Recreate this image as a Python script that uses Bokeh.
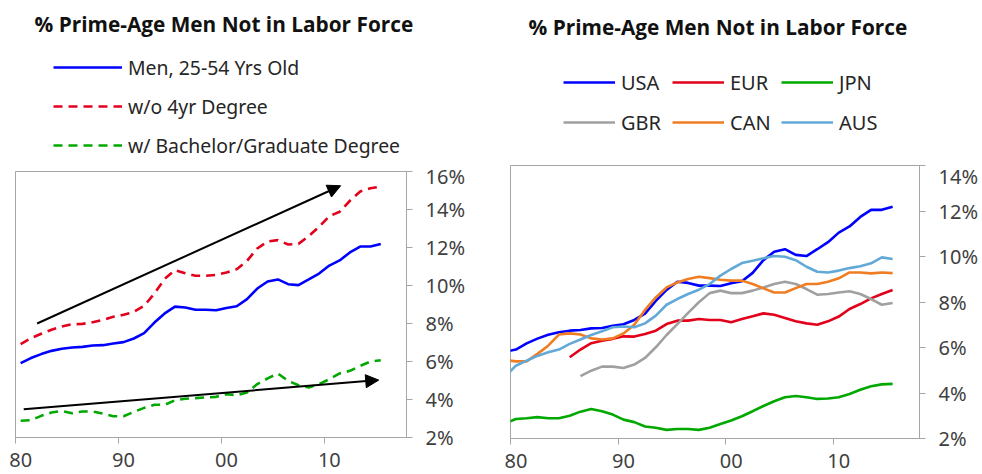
from bokeh.plotting import figure
from bokeh.models import (Range1d, FixedTicker, PrintfTickFormatter, CustomJSTickFormatter,
                          Legend, LegendItem, Arrow, NormalHead)
from bokeh.layouts import row, column
from bokeh.embed import file_html
from bokeh.resources import INLINE

NaN = float("nan")

# ---------------- data: left chart (US) ----------------
years_l = list(range(1980, 2016))
men_all = [5.91, 6.18, 6.39, 6.56, 6.67, 6.74, 6.77, 6.84, 6.86, 6.95,
           7.02, 7.21, 7.49, 8.05, 8.53, 8.89, 8.84, 8.72, 8.72, 8.70,
           8.82, 8.91, 9.28, 9.84, 10.21, 10.32, 10.07, 10.02, 10.32, 10.63,
           11.05, 11.32, 11.74, 12.05, 12.05, 12.19]
no_degree = [6.91, 7.23, 7.46, 7.67, 7.84, 7.96, 7.98, 8.07, 8.19, 8.35,
             8.46, 8.61, 8.93, 9.58, 10.35, 10.81, 10.65, 10.51, 10.51, 10.56,
             10.68, 10.86, 11.30, 11.95, 12.32, 12.39, 12.16, 12.19, 12.60, 13.09,
             13.65, 13.88, 14.46, 14.95, 15.12, 15.21]
ba_degree = [2.88, 2.91, 3.14, 3.32, 3.39, 3.28, 3.37, 3.37, 3.26, 3.12,
             3.12, 3.35, 3.56, 3.72, 3.72, 3.96, 4.04, 4.07, 4.11, 4.14,
             4.28, 4.23, 4.37, 4.81, 5.11, 5.37, 4.98, 4.75, 4.63, 4.81,
             5.07, 5.37, 5.51, 5.77, 6.00, 6.07]
left_labels = ["Men, 25-54 Yrs Old", "w/o 4yr Degree", "w/ Bachelor/Graduate Degree"]

# trend arrows (start x, start y, end x, end y)
arrow_x0 = [1982.1, 1980.8]
arrow_y0 = [8.0, 3.49]
arrow_x1 = [2011.6, 2015.3]
arrow_y1 = [15.25, 5.02]

# ---------------- data: right chart (countries) ----------------
years_r = list(range(1979, 2016))
usa = [5.81] + men_all
eur = [NaN] * 6 + [5.57, 5.91, 6.19, 6.30, 6.38, 6.49, 6.48, 6.59, 6.74, 7.03,
                   7.18, 7.18, 7.25, 7.21, 7.21, 7.11, 7.25, 7.37, 7.50, 7.44,
                   7.30, 7.15, 7.06, 7.00, 7.15, 7.36, 7.69, 7.91, 8.16, 8.35, 8.53]
jpn = [2.66, 2.86, 2.89, 2.94, 2.89, 2.89, 3.00, 3.18, 3.30, 3.20, 3.05,
       2.83, 2.72, 2.53, 2.47, 2.38, 2.42, 2.42, 2.38, 2.47, 2.64,
       2.79, 2.98, 3.20, 3.43, 3.64, 3.81, 3.87, 3.81, 3.74, 3.76,
       3.81, 3.96, 4.14, 4.30, 4.38, 4.40]
gbr = [NaN] * 7 + [4.74, 4.98, 5.16, 5.16, 5.10, 5.25, 5.54, 6.01, 6.55, 7.03,
                   7.52, 7.99, 8.39, 8.50, 8.39, 8.39, 8.50, 8.64, 8.79, 8.89,
                   8.79, 8.57, 8.32, 8.35, 8.42, 8.47, 8.35, 8.13, 7.88, 7.96]
can = [5.45, 5.39, 5.39, 5.72, 6.08, 6.57, 6.62, 6.57, 6.40, 6.35, 6.40,
       6.62, 7.00, 7.65, 8.20, 8.64, 8.86, 9.01, 9.11, 9.05, 8.98,
       8.94, 8.94, 8.79, 8.60, 8.42, 8.42, 8.61, 8.79, 8.79, 8.89,
       9.04, 9.30, 9.30, 9.26, 9.30, 9.27]
aus = [4.72, 5.20, 5.42, 5.63, 5.79, 5.91, 6.16, 6.35, 6.55, 6.71, 6.89,
       6.92, 6.89, 7.06, 7.40, 7.88, 8.13, 8.35, 8.54, 8.79, 9.16,
       9.45, 9.71, 9.81, 9.92, 10.02, 9.99, 9.84, 9.55, 9.33, 9.30,
       9.38, 9.49, 9.57, 9.70, 9.96, 9.89]
country_names = ["USA", "EUR", "JPN", "GBR", "CAN", "AUS"]

# ---------------- axes ----------------
tick_years = [1980, 1990, 2000, 2010]
tick_labels = ["80", "90", "00", "10"]
left_y_ticks = [2, 4, 6, 8, 10, 12, 14, 16]
right_y_ticks = [2, 4, 6, 8, 10, 12, 14]

title_text = "% Prime-Age Men Not in Labor Force"

FONT = "Noto Sans"
GRID_GREY = "#A6A6A6"
TICK_TEXT = "#3f3f3f"
LEG_TEXT = "#262626"
HEAD_H = 162
CHART_H = 474 - HEAD_H

blue, red, green = "#0000FF", "#E3001B", "#00A800"
country_colors = [blue, red, green, "#A0A0A0", "#F07D22", "#62A9D8"]


def style(p, yticks):
    p.xgrid.visible = False
    p.ygrid.visible = False
    p.outline_line_color = GRID_GREY
    xa = p.xaxis[0]
    # labels centred on each category (mid-year), tick marks on the year boundary
    mids = [y + 0.5 for y in tick_years]
    xa.ticker = FixedTicker(ticks=mids, minor_ticks=tick_years)
    xa.formatter = CustomJSTickFormatter(
        args=dict(pos=mids, labels=tick_labels),
        code="const i = pos.indexOf(tick); return i < 0 ? '' : labels[i];")
    xa.axis_line_color = GRID_GREY
    xa.major_tick_line_color = None
    xa.major_tick_out = 0
    xa.major_tick_in = 0
    xa.minor_tick_line_color = GRID_GREY
    xa.minor_tick_out = 6
    xa.minor_tick_in = 0
    xa.major_label_standoff = 9
    xa.major_label_text_font = FONT
    xa.major_label_text_font_size = "20px"
    xa.major_label_text_color = TICK_TEXT
    ya = p.yaxis[0]
    ya.ticker = FixedTicker(ticks=yticks)
    ya.formatter = PrintfTickFormatter(format="%d%%")
    ya.axis_line_color = GRID_GREY
    ya.major_tick_line_color = GRID_GREY
    ya.major_tick_out = 6
    ya.major_tick_in = 0
    ya.minor_tick_line_color = None
    ya.major_label_standoff = 13
    ya.major_label_text_font = FONT
    ya.major_label_text_font_size = "20px"
    ya.major_label_text_color = TICK_TEXT


def header(width, title_offset, top):
    # header strip above each chart: title + legend (its frame lines up with the chart's)
    h = figure(width=width, height=HEAD_H, x_range=Range1d(0, 1), y_range=Range1d(0, 1),
               output_backend="svg", toolbar_location=None, x_axis_location=None,
               y_axis_location=None, min_border=0, min_border_top=top,
               outline_line_color=None, title=title_text)
    h.xgrid.visible = False
    h.ygrid.visible = False
    h.title.align = "left"
    h.title.offset = title_offset
    h.title.text_font = "Open Sans"
    h.title.text_font_style = "bold"
    h.title.text_font_size = "20.8px"
    h.title.text_color = "#111111"
    h.title.standoff = 0
    return h


LEG_STYLE = dict(padding=0, margin=0, border_line_color=None, background_fill_alpha=0,
                 glyph_height=28, label_height=28, label_text_font=FONT,
                 label_text_color=LEG_TEXT)

# ---------------- left chart ----------------
W1 = 500
h1 = header(W1, 19, 37)
p1 = figure(width=W1, height=CHART_H, x_range=Range1d(1980, 2018), y_range=Range1d(2, 16),
            output_backend="svg", toolbar_location=None, y_axis_location="right",
            min_border_left=15, min_border_right=W1 - 15 - 391, min_border_top=9,
            min_border_bottom=CHART_H - 9 - 266)
style(p1, left_y_ticks)

xl = [y + 0.5 for y in years_l]
left_styles = [dict(line_color=blue, line_width=2.6),
               dict(line_color=red, line_width=2.6, line_dash="9 6"),
               dict(line_color=green, line_width=2.6, line_dash="9 6")]
for vals, st in zip([men_all, no_degree, ba_degree], left_styles):
    p1.line(xl, vals, **st)

for i in range(len(arrow_x0)):
    p1.add_layout(Arrow(end=NormalHead(size=13, fill_color="black", line_color="black"),
                        x_start=arrow_x0[i], y_start=arrow_y0[i],
                        x_end=arrow_x1[i], y_end=arrow_y1[i],
                        line_color="black", line_width=2))

# legend swatches: line renderers that carry only the style (no visible data)
proxies1 = [h1.line([NaN, NaN], [NaN, NaN], **st) for st in left_styles]
leg1 = Legend(items=[LegendItem(label=lab, renderers=[r]) for lab, r in zip(left_labels, proxies1)],
              location=(38, 3), orientation="vertical", spacing=11,
              glyph_width=69, label_standoff=6, label_text_font_size="19.4px", **LEG_STYLE)
h1.add_layout(leg1)

# ---------------- right chart ----------------
W2 = 480
h2 = header(W2, 18, 40)
p2 = figure(width=W2, height=CHART_H, x_range=Range1d(1980, 2018), y_range=Range1d(2, 14),
            output_backend="svg", toolbar_location=None, y_axis_location="right",
            min_border_left=10, min_border_right=W2 - 10 - 412, min_border_top=3,
            min_border_bottom=CHART_H - 3 - 273)
style(p2, right_y_ticks)

xr = [y + 0.5 for y in years_r]
for s, c in zip([usa, eur, jpn, gbr, can, aus], country_colors):
    p2.line(xr, s, line_color=c, line_width=2.6)

proxies2 = [h2.line([NaN, NaN], [NaN, NaN], line_color=c, line_width=2.6)
            for c in country_colors]
for k, yloc in enumerate([66, 26]):
    items = [LegendItem(label=country_names[3 * k + j], renderers=[proxies2[3 * k + j]])
             for j in range(3)]
    h2.add_layout(Legend(items=items, location=(53, yloc), orientation="horizontal",
                         spacing=6, glyph_width=52, label_width=45, label_standoff=6,
                         label_text_font_size="20px", **LEG_STYLE))

layout = row(column(h1, p1), column(h2, p2))
open("out.html", "w").write(file_html(layout, INLINE))
